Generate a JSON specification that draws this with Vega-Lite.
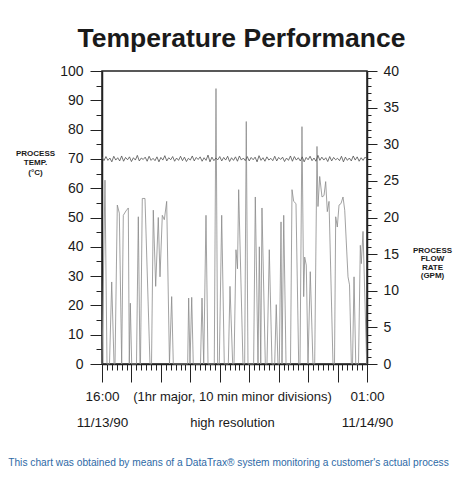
{
  "$schema": "https://vega.github.io/schema/vega-lite/v6.json",
  "width": 265,
  "height": 293,
  "autosize": {"type": "none"},
  "padding": {"left": 102, "top": 71, "right": 88, "bottom": 117},
  "background": "white",
  "title": {"text": "Temperature Performance", "font": "Liberation Sans", "fontSize": 26.5, "fontWeight": "bold", "color": "#1a1a1a", "anchor": "middle", "dx": 7, "baseline": "alphabetic", "offset": -9},
  "datasets": {
    "temp": [
      {"m":0,"t":70.6},{"m":4,"t":69.4},{"m":8,"t":70.8},{"m":12,"t":69.5},{"m":16,"t":70.3},{"m":20,"t":69.0},{"m":24,"t":70.9},{"m":28,"t":69.6},{"m":32,"t":70.4},{"m":36,"t":69.3},
      {"m":40,"t":71.0},{"m":44,"t":69.2},{"m":48,"t":70.5},{"m":52,"t":69.7},{"m":56,"t":70.7},{"m":60,"t":69.1},{"m":64,"t":70.4},{"m":68,"t":69.6},{"m":72,"t":71.2},{"m":76,"t":69.3},
      {"m":80,"t":70.3},{"m":84,"t":69.8},{"m":88,"t":70.6},{"m":92,"t":69.2},{"m":96,"t":70.9},{"m":100,"t":69.5},{"m":104,"t":70.2},{"m":108,"t":69.4},{"m":112,"t":70.7},{"m":116,"t":69.0},
      {"m":120,"t":70.5},{"m":124,"t":69.6},{"m":128,"t":71.1},{"m":132,"t":69.3},{"m":136,"t":70.4},{"m":140,"t":69.7},{"m":144,"t":70.8},{"m":148,"t":69.2},{"m":152,"t":70.3},{"m":156,"t":69.5},
      {"m":160,"t":70.9},{"m":164,"t":69.4},{"m":168,"t":70.6},{"m":172,"t":69.1},{"m":176,"t":70.2},{"m":180,"t":69.6},{"m":184,"t":71.0},{"m":188,"t":69.3},{"m":192,"t":70.5},{"m":196,"t":69.8},
      {"m":200,"t":70.7},{"m":204,"t":69.2},{"m":208,"t":70.4},{"m":212,"t":69.5},{"m":216,"t":71.3},{"m":220,"t":69.0},{"m":224,"t":70.6},{"m":228,"t":69.4},{"m":232,"t":70.3},{"m":236,"t":69.7},
      {"m":240,"t":70.8},{"m":244,"t":69.3},{"m":248,"t":70.5},{"m":252,"t":69.6},{"m":256,"t":70.9},{"m":260,"t":69.1},{"m":264,"t":70.4},{"m":268,"t":69.5},{"m":272,"t":70.7},{"m":276,"t":69.2},
      {"m":280,"t":71.0},{"m":284,"t":69.6},{"m":288,"t":70.3},{"m":292,"t":69.4},{"m":296,"t":70.8},{"m":300,"t":69.3},{"m":304,"t":70.5},{"m":308,"t":69.7},{"m":312,"t":70.6},{"m":316,"t":69.0},
      {"m":320,"t":71.1},{"m":324,"t":69.5},{"m":328,"t":70.4},{"m":332,"t":69.2},{"m":336,"t":70.7},{"m":340,"t":69.6},{"m":344,"t":70.2},{"m":348,"t":69.4},{"m":352,"t":70.9},{"m":356,"t":69.3},
      {"m":360,"t":70.5},{"m":364,"t":69.8},{"m":368,"t":70.6},{"m":372,"t":69.1},{"m":376,"t":70.3},{"m":380,"t":69.5},{"m":384,"t":71.0},{"m":388,"t":69.2},{"m":392,"t":70.8},{"m":396,"t":69.6},
      {"m":400,"t":70.4},{"m":404,"t":69.3},{"m":408,"t":70.7},{"m":412,"t":69.0},{"m":416,"t":70.5},{"m":420,"t":69.7},{"m":424,"t":70.9},{"m":428,"t":69.4},{"m":432,"t":70.3},{"m":436,"t":69.2},
      {"m":440,"t":71.2},{"m":444,"t":69.5},{"m":448,"t":70.6},{"m":452,"t":69.6},{"m":456,"t":70.4},{"m":460,"t":69.1},{"m":464,"t":70.8},{"m":468,"t":69.3},{"m":472,"t":70.5},{"m":476,"t":69.7},
      {"m":480,"t":70.2},{"m":484,"t":69.4},{"m":488,"t":70.9},{"m":492,"t":69.0},{"m":496,"t":70.6},{"m":500,"t":69.5},{"m":504,"t":70.3},{"m":508,"t":69.3},{"m":512,"t":71.0},{"m":516,"t":69.6},
      {"m":520,"t":70.7},{"m":524,"t":69.2},{"m":528,"t":70.4},{"m":532,"t":69.5},{"m":536,"t":70.6},{"m":540,"t":69.9}
    ],
    "flow": [
      {"m":0,"f":0},{"m":6.1,"f":25.1},{"m":10.2,"f":0},{"m":15.3,"f":0},{"m":19.8,"f":11.2},{"m":24.5,"f":0},{"m":26.5,"f":0},{"m":31.2,"f":21.7},{"m":35.3,"f":20.6},{"m":40.1,"f":0},
      {"m":43.4,"f":20.3},{"m":48.9,"f":20.9},{"m":53.6,"f":21.3},{"m":55.6,"f":0},{"m":57.7,"f":8.3},{"m":60.5,"f":0},{"m":70.3,"f":0},{"m":74.0,"f":20.1},{"m":77.4,"f":0},{"m":78.4,"f":0},
      {"m":82.1,"f":22.6},{"m":87.6,"f":22.6},{"m":97.8,"f":0},{"m":100.9,"f":0},{"m":104.5,"f":21.0},{"m":109.4,"f":10.6},{"m":114.7,"f":20.0},{"m":118.2,"f":11.9},{"m":122.9,"f":20.3},{"m":127.0,"f":19.7},
      {"m":131.8,"f":22.2},{"m":137.5,"f":0},{"m":142.0,"f":9.2},{"m":145.3,"f":0},{"m":174.6,"f":0},{"m":176.6,"f":9.0},{"m":179.3,"f":0},{"m":182.8,"f":9.1},{"m":186.0,"f":0},{"m":200.7,"f":0},
      {"m":203.8,"f":9.0},{"m":207.3,"f":0},{"m":211.9,"f":20.3},{"m":216.0,"f":0},{"m":228.8,"f":0},{"m":232.3,"f":37.6},{"m":235.7,"f":0},{"m":239.0,"f":0},{"m":243.9,"f":20.3},{"m":249.2,"f":0},
      {"m":257.4,"f":0},{"m":260.8,"f":10.6},{"m":266.3,"f":0},{"m":269.0,"f":0},{"m":273.0,"f":15.6},{"m":276.1,"f":13.0},{"m":278.5,"f":23.8},{"m":287.3,"f":0},{"m":290.7,"f":0},{"m":294.0,"f":33.1},
      {"m":297.5,"f":0},{"m":309.0,"f":0},{"m":312.4,"f":22.8},{"m":317.9,"f":0},{"m":320.6,"f":16.0},{"m":323.5,"f":0},{"m":326.0,"f":21.3},{"m":332.8,"f":0},{"m":336.2,"f":0},{"m":340.9,"f":15.6},
      {"m":346.4,"f":0},{"m":351.9,"f":0},{"m":355.1,"f":8.1},{"m":358.6,"f":0},{"m":361.3,"f":0},{"m":364.8,"f":19.4},{"m":366.8,"f":0},{"m":370.3,"f":20.3},{"m":375.0,"f":0},{"m":384.1,"f":0},
      {"m":387.2,"f":23.8},{"m":390.6,"f":22.2},{"m":395.3,"f":21.9},{"m":400.8,"f":0},{"m":403.5,"f":0},{"m":407.5,"f":32.4},{"m":411.0,"f":9.2},{"m":413.0,"f":14.6},{"m":416.3,"f":13.5},{"m":419.8,"f":0},
      {"m":424.4,"f":12.6},{"m":429.9,"f":0},{"m":433.4,"f":0},{"m":438.1,"f":29.7},{"m":440.1,"f":21.5},{"m":443.6,"f":25.6},{"m":448.3,"f":22.8},{"m":452.4,"f":23.0},{"m":455.8,"f":24.9},{"m":459.1,"f":20.8},
      {"m":462.6,"f":22.2},{"m":470.7,"f":0},{"m":473.8,"f":0},{"m":476.2,"f":20.1},{"m":479.5,"f":18.7},{"m":483.0,"f":21.7},{"m":487.0,"f":21.9},{"m":491.1,"f":22.8},{"m":494.6,"f":21.0},{"m":501.3,"f":11.9},
      {"m":504.4,"f":10.8},{"m":508.1,"f":0},{"m":510.5,"f":0},{"m":513.6,"f":11.9},{"m":517.1,"f":0},{"m":522.7,"f":0},{"m":526.4,"f":16.2},{"m":528.4,"f":13.7},{"m":531.9,"f":18.1},{"m":539.4,"f":0}
    ]
  },
  "layer": [
    {
      "data": {"name": "flow"},
      "mark": {"type": "line", "color": "#8a8a8a", "strokeWidth": 0.8},
      "encoding": {
        "x": {"field": "m", "type": "quantitative", "scale": {"domain": [0, 540], "nice": false, "zero": false},
          "axis": {"orient": "bottom", "values": [0,10,20,30,40,50,60,70,80,90,100,110,120,130,140,150,160,170,180,190,200,210,220,230,240,250,260,270,280,290,300,310,320,330,340,350,360,370,380,390,400,410,420,430,440,450,460,470,480,490,500,510,520,530,540],
            "tickSize": 6, "labels": false, "domain": false,
            "title": "This chart was obtained by means of a DataTrax® system monitoring a customer's actual process",
            "titleX": 126, "titleY": 101, "titleAlign": "center", "titleBaseline": "alphabetic", "titleColor": "#2e6aa6", "titleFontSize": 10.2, "titleFontWeight": "normal", "titleFont": "Liberation Sans"}},
        "y": {"field": "f", "type": "quantitative", "scale": {"domain": [0, 40], "nice": false},
          "axis": {"orient": "right", "values": [0,5,10,15,20,25,30,35,40], "tickSize": 10, "labelPadding": 6,
            "title": ["PROCESS", "FLOW", "RATE", "(GPM)"], "titleAngle": 0, "titleX": 65, "titleY": 179, "titleAlign": "center", "titleBaseline": "middle", "titleFontSize": 8, "titleLineHeight": 8.5, "titleFontWeight": "bold", "titleFont": "Liberation Sans"}}
      }
    },
    {
      "data": {"name": "temp"},
      "mark": {"type": "line", "color": "#505050", "strokeWidth": 0.8},
      "encoding": {
        "x": {"field": "m", "type": "quantitative", "scale": {"domain": [0, 540], "nice": false, "zero": false},
          "axis": {"orient": "bottom", "values": [0,60,120,180,240,300,360,420,480,540], "tickSize": 18, "labelPadding": 18, "labelBaseline": "alphabetic", "labelLineHeight": 26, "labelFontSize": 13.5,
            "labelExpr": "datum.value == 0 ? ['16:00', '11/13/90'] : (datum.value == 540 ? ['01:00', '11/14/90'] : '')",
            "title": ["(1hr major, 10 min minor divisions)", "high resolution"], "titleX": 130, "titleY": 36, "titleAlign": "center", "titleBaseline": "alphabetic", "titleLineHeight": 26, "titleFontSize": 13, "titleFontWeight": "normal", "titleFont": "Liberation Sans", "titleColor": "#1a1a1a"}},
        "y": {"field": "t", "type": "quantitative", "scale": {"domain": [0, 100], "nice": false},
          "axis": {"orient": "left", "values": [0,10,20,30,40,50,60,70,80,90,100], "tickSize": 12, "labelPadding": 7,
            "title": ["PROCESS", "TEMP.", "(°C)"], "titleAngle": 0, "titleX": -67, "titleY": 82, "titleAlign": "center", "titleBaseline": "middle", "titleFontSize": 8, "titleLineHeight": 9.5, "titleFontWeight": "bold", "titleFont": "Liberation Sans"}}
      }
    },
    {
      "data": {"name": "temp"},
      "mark": {"type": "line", "opacity": 0},
      "encoding": {
        "x": {"field": "m", "type": "quantitative", "scale": {"domain": [0, 540], "nice": false, "zero": false}, "axis": null},
        "y": {"field": "t", "type": "quantitative", "scale": {"domain": [0, 100], "nice": false},
          "axis": {"orient": "left", "values": [5,15,25,35,45,55,65,75,85,95], "tickSize": 6, "labels": false, "domain": false, "title": null}}
      }
    },
    {
      "data": {"name": "flow"},
      "mark": {"type": "line", "opacity": 0},
      "encoding": {
        "x": {"field": "m", "type": "quantitative", "scale": {"domain": [0, 540], "nice": false, "zero": false}, "axis": null},
        "y": {"field": "f", "type": "quantitative", "scale": {"domain": [0, 40], "nice": false},
          "axis": {"orient": "right", "values": [1,2,3,4,6,7,8,9,11,12,13,14,16,17,18,19,21,22,23,24,26,27,28,29,31,32,33,34,36,37,38,39], "tickSize": 4, "labels": false, "domain": false, "title": null}}
      }
    }
  ],
  "resolve": {"scale": {"y": "independent"}, "axis": {"x": "independent", "y": "independent"}},
  "config": {
    "view": {"stroke": "#222222", "strokeWidth": 1.5},
    "axis": {"grid": false, "domainColor": "#222222", "domainWidth": 1.5, "tickColor": "#222222", "tickWidth": 1, "labelFont": "Liberation Sans", "labelFontSize": 14, "labelColor": "#1a1a1a", "titleColor": "#1a1a1a", "labelOverlap": false, "labelBound": false, "labelFlush": false}
  }
}
